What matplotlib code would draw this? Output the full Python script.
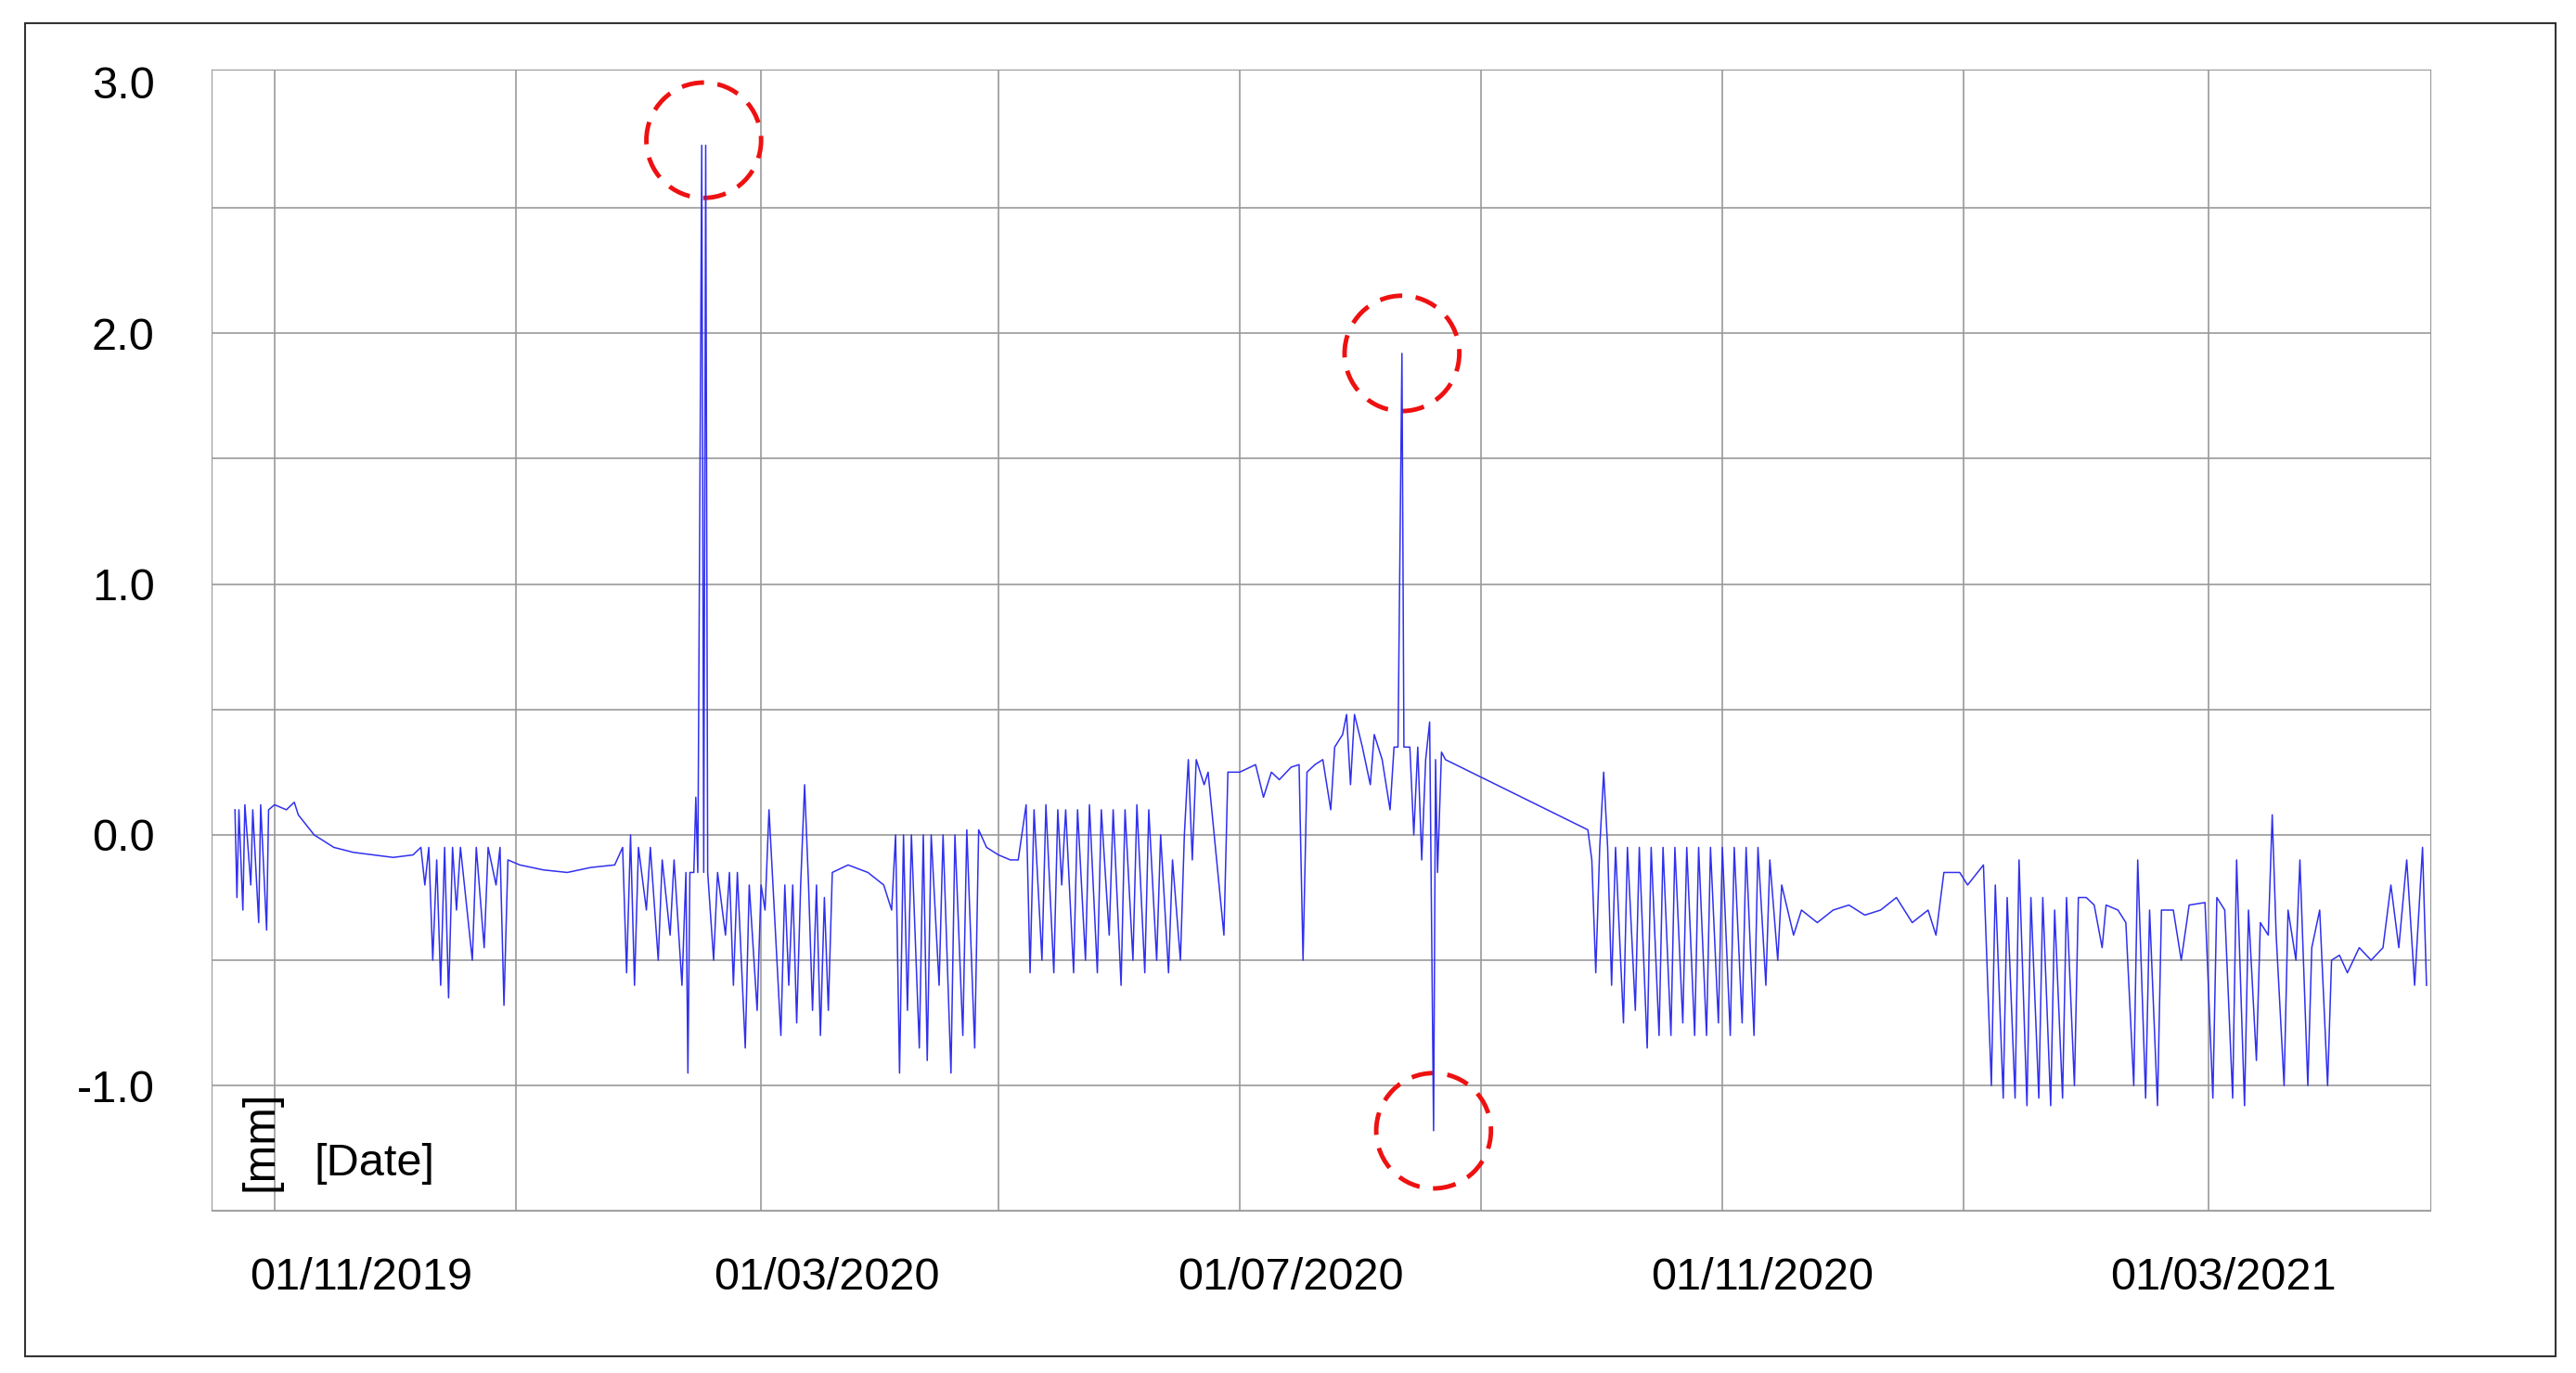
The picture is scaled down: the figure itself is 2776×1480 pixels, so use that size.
import matplotlib
matplotlib.use("Agg")
import matplotlib.pyplot as plt
from matplotlib.patches import Ellipse, Rectangle
import numpy as np

plt.rcParams['font.family'] = ['Liberation Sans', 'DejaVu Sans']

# days since 01/10/2019, displacement in mm
pts = [(-10,0.1),(-9.5,-0.25),(-9,0.1),(-8,-0.3),(-7.5,0.12),(-6,-0.2),(-5.5,0.1),(-4,-0.35),(-3.5,0.12),(-2,-0.38),(-1.5,0.1),(0,0.12),(3,0.1),(5,0.13),(6,0.08),
(10,0.0),(15,-0.05),(20,-0.07),(25,-0.08),(30,-0.09),(35,-0.08),(37,-0.05),
(38,-0.2),(39,-0.05),(40,-0.5),(41,-0.1),(42,-0.6),(43,-0.05),(44,-0.65),(45,-0.05),(46,-0.3),(47,-0.05),(50,-0.5),(51,-0.05),(53,-0.45),(54,-0.05),(56,-0.2),(57,-0.05),(58,-0.68),(59,-0.1),
(62,-0.12),(68,-0.14),(74,-0.15),(80,-0.13),(86,-0.12),(88,-0.05),
(89,-0.55),(90,0.0),(91,-0.6),(92,-0.05),(94,-0.3),(95,-0.05),(97,-0.5),(98,-0.1),(100,-0.4),(101,-0.1),(103,-0.6),(104,-0.15),(104.5,-0.95),(105,-0.15),(106,-0.15),
(106.5,0.15),(107,-0.15),(108,2.75),(108.5,-0.15),(109,2.75),(109.5,-0.15),
(111,-0.5),(112,-0.15),(114,-0.4),(115,-0.15),(116,-0.6),(117,-0.15),(119,-0.85),(120,-0.2),(122,-0.7),(123,-0.2),(124,-0.3),(125,0.1),(126,-0.2),(128,-0.8),(129,-0.2),(130,-0.6),(131,-0.2),(132,-0.75),(133,-0.2),(134,0.2),(135,-0.2),(136,-0.7),(137,-0.2),(138,-0.8),(139,-0.25),(140,-0.7),(141,-0.15),(145,-0.12),(150,-0.15),(154,-0.2),
(156,-0.3),(157,0.0),(158,-0.95),(159,0.0),(160,-0.7),(161,0.0),(163,-0.85),(164,0.0),(165,-0.9),(166,0.0),(168,-0.6),(169,0.0),(171,-0.95),(172,0.0),(174,-0.8),(175,0.02),(177,-0.85),(178,0.02),(180,-0.05),
(183,-0.08),(186,-0.1),(188,-0.1),
(190,0.12),(191,-0.55),(192,0.1),(194,-0.5),(195,0.12),(197,-0.55),(198,0.1),(199,-0.2),(200,0.1),(202,-0.55),(203,0.1),(205,-0.5),(206,0.12),(208,-0.55),(209,0.1),(211,-0.4),(212,0.1),(214,-0.6),(215,0.1),(217,-0.5),(218,0.12),(220,-0.55),(221,0.1),(223,-0.5),(224,0.0),(226,-0.55),(227,-0.1),(229,-0.5),(230,0.0),
(231,0.3),(232,-0.1),(233,0.3),(235,0.2),(236,0.25),(240,-0.4),(241,0.25),(244,0.25),(248,0.28),(250,0.15),(252,0.25),(254,0.22),(257,0.27),(259,0.28),(260,-0.5),(261,0.25),(263,0.28),
(265,0.3),(267,0.1),(268,0.35),(270,0.4),(271,0.48),(272,0.2),(273,0.48),(275,0.35),(277,0.2),(278,0.4),(280,0.3),(282,0.1),(283,0.35),(284,0.35),(285,1.92),(285.5,0.35),
(287,0.35),(288,0.0),(289,0.35),(290,-0.1),(291,0.3),(292,0.45),(293,-1.18),(293.5,0.3),(294,-0.15),(295,0.33),(296,0.3),
(332,0.02),
(333,-0.1),(334,-0.55),(335,-0.05),(336,0.25),(337,-0.05),(338,-0.6),(339,-0.05),(341,-0.75),(342,-0.05),(344,-0.7),(345,-0.05),(347,-0.85),(348,-0.05),(350,-0.8),(351,-0.05),(353,-0.8),(354,-0.05),(356,-0.75),(357,-0.05),(359,-0.8),(360,-0.05),(362,-0.8),(363,-0.05),(365,-0.75),(366,-0.05),(368,-0.8),(369,-0.05),(371,-0.75),(372,-0.05),(374,-0.8),(375,-0.05),(377,-0.6),(378,-0.1),(380,-0.5),(381,-0.2),(384,-0.4),(386,-0.3),
(390,-0.35),(394,-0.3),(398,-0.28),(402,-0.32),(406,-0.3),(410,-0.25),(414,-0.35),(418,-0.3),(420,-0.4),(422,-0.15),(426,-0.15),(428,-0.2),(432,-0.12),
(434,-1.0),(435,-0.2),(437,-1.05),(438,-0.25),(440,-1.05),(441,-0.1),(443,-1.08),(444,-0.25),(446,-1.05),(447,-0.25),(449,-1.08),(450,-0.3),(452,-1.05),(453,-0.25),(455,-1.0),(456,-0.25),
(458,-0.25),(460,-0.28),(462,-0.45),(463,-0.28),(466,-0.3),(468,-0.35),
(470,-1.0),(471,-0.1),(473,-1.05),(474,-0.3),(476,-1.08),(477,-0.3),
(480,-0.3),(482,-0.5),(484,-0.28),(488,-0.27),(490,-1.05),(491,-0.25),(493,-0.3),(495,-1.05),(496,-0.1),(498,-1.08),(499,-0.3),(501,-0.9),(502,-0.35),(504,-0.4),(505,0.08),(506,-0.4),(508,-1.0),(509,-0.3),(511,-0.5),(512,-0.1),(514,-1.0),(515,-0.45),(517,-0.3),(519,-1.0),(520,-0.5),(522,-0.48),(524,-0.55),(527,-0.45),(530,-0.5),(533,-0.45),(535,-0.2),(537,-0.45),(539,-0.1),(541,-0.6),(543,-0.05),(544,-0.6)]
days = [p[0] for p in pts]
values = [p[1] for p in pts]

grid_days = [0, 61, 123, 183, 244, 305, 366, 427, 489]  # month starts every 2 months
date_labels = ["01/11/2019", "01/03/2020", "01/07/2020", "01/11/2020", "01/03/2021"]
label_fx = [0.140, 0.321, 0.501, 0.684, 0.863]
circles = [(108.5, 2.77), (285, 1.92), (293, -1.18)]

fig = plt.figure(figsize=(27.76, 14.8), dpi=100)
fig.patches.append(Rectangle((0.0096, 0.012), 0.9826, 0.971, transform=fig.transFigure,
                             fill=False, edgecolor="#333333", lw=1.5))
ax = fig.add_axes([0.082, 0.118, 0.8615, 0.831])
ax.plot(days, values, color="#3030ee", lw=1.1)
ax.set_xlim(-16, 545)
ax.set_ylim(-1.5, 3.05)
ax.set_xticks(grid_days)
ax.set_xticklabels([])
ax.set_yticks([-1.5, -1.0, -0.5, 0, 0.5, 1.0, 1.5, 2.0, 2.5, 3.0])
ax.set_yticklabels(["", "-1.0", "", "0.0", "", "1.0", "", "2.0", "", "3.0"], fontsize=35)
ax.tick_params(length=0, pad=44)
ax.grid(True, color="#999999", lw=1.2)
ax.get_ygridlines()[-1].set_visible(False)
ax.set_axisbelow(True)
for s in ax.spines.values():
    s.set_color("#999999")
for cx, cy in circles:
    ax.add_patch(Ellipse((cx, cy), 29, 0.46, fill=False, edgecolor="#ee1111",
                         lw=3.5, linestyle=(0, (5, 3))))
for t, fx in zip(date_labels, label_fx):
    fig.text(fx, 0.069, t, ha="center", va="center", fontsize=35)
ax.text(-3.5, -1.22, "[mm]", rotation=90, ha="center", va="center", fontsize=35)
ax.text(10, -1.31, "[Date]", ha="left", va="center", fontsize=35)
fig.savefig("out.png", dpi=100)
